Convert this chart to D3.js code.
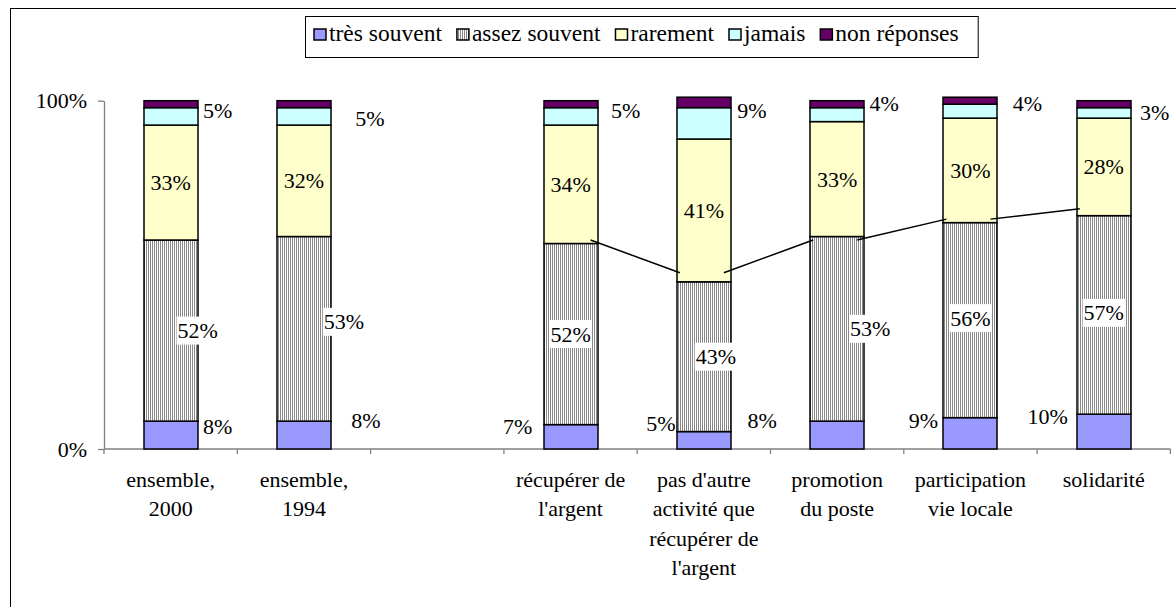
<!DOCTYPE html>
<html>
<head>
<meta charset="utf-8">
<script src="https://cdn.jsdelivr.net/npm/d3@7"></script>
<style>
  body { margin: 0; background: #fff; }
  svg { display: block; }
  svg text { font-family: "Liberation Serif", Tinos, "Times New Roman", Times, "Nimbus Roman", "DejaVu Serif", serif; }
</style>
</head>
<body>
<div id="chart"></div>
<script>
// data (third slot is an empty gap in the chart)
var categories = ["ensemble,\n2000", "ensemble,\n1994", "", "récupérer de\nl'argent",
  "pas d'autre\nactivité que\nrécupérer de\nl'argent", "promotion\ndu poste",
  "participation\nvie locale", "solidarité"];
var seriesNames = ["très souvent", "assez souvent", "rarement", "jamais", "non réponses"];
var tresSouvent  = [8, 8, null, 7, 5, 8, 9, 10];
var assezSouvent = [52, 53, null, 52, 43, 53, 56, 57];
var rarement     = [33, 32, null, 34, 41, 33, 30, 28];
var jamais       = [5, 5, null, 5, 9, 4, 4, 3];
var nonReponses  = [2, 2, null, 2, 3, 2, 2, 2];
// level of the hand drawn connecting lines
var lienNiveaux  = [null, null, null, 60, 50.6, 60, 66, 69];
var yTicks = [0, 100];

// label nudges [dx, dy] in px, as placed by hand in the original
var offTres   = [[47, -9], [62, -15], null, [-53, -10], [-43, -17], [-75, -15], [-47, -13], [-56, -15]];
var offAssez  = [[27, 0], [40, -7], null, [0, 0], [12, 0], [33, 0], [0, -2], [0, -2]];
var offJamais = [[47, -6], [66, 2], null, [55, -6], [48, -13], [47, -11], [57, -8], [51, 0]];

var colors = {"très souvent": "#9999ff", "assez souvent": "url(#hachures)", "rarement": "#ffffcc",
  "jamais": "#ccffff", "non réponses": "#660066"};

var W = 1176, H = 607;
var plot = {left: 104, right: 1170.4, top: 100.7, bottom: 449};
var fs = 22;

var svg = d3.select("#chart").append("svg")
    .attr("width", W)
    .attr("height", H);

// hatch pattern for "assez souvent"
var pat = svg.append("defs").append("pattern")
    .attr("id", "hachures")
    .attr("patternUnits", "userSpaceOnUse")
    .attr("width", 2).attr("height", 4);
pat.append("rect").attr("width", 2).attr("height", 4).attr("fill", "#fff");
pat.append("rect").attr("width", 1).attr("height", 4).attr("fill", "#888");

// outer frame
svg.append("rect")
    .attr("x", 10.5).attr("y", 8.5)
    .attr("width", 1300).attr("height", 700)
    .attr("fill", "none").attr("stroke", "#000").attr("stroke-width", 1);

var x = d3.scaleBand()
    .domain(d3.range(categories.length))
    .range([plot.left, plot.right])
    .padding(0);
var y = d3.scaleLinear()
    .domain([0, 100])
    .range([plot.bottom, plot.top]);
var bw = x.bandwidth() * 0.405;
function cx(i) { return x(i) + x.bandwidth() / 2; }

// rows for the stack
var rows = [];
categories.forEach(function(c, i) {
  if (tresSouvent[i] == null) return;
  rows.push({i: i, "très souvent": tresSouvent[i], "assez souvent": assezSouvent[i],
    "rarement": rarement[i], "jamais": jamais[i], "non réponses": nonReponses[i]});
});
var stacked = d3.stack().keys(seriesNames)(rows);

// y axis
var yAxis = svg.append("g")
    .attr("transform", "translate(" + plot.left + ",0)")
    .call(d3.axisLeft(y).tickValues(yTicks).tickSize(6).tickSizeOuter(0)
      .tickPadding(11).tickFormat(function(d) { return d + "%"; }));
yAxis.attr("font-family", null);
yAxis.selectAll("path, line").attr("stroke", "#808080").attr("stroke-width", 1.3);
yAxis.selectAll("text")
    .attr("font-size", fs).attr("fill", "#000").attr("dy", "0.32em");

// x axis: line, ticks at band boundaries, wrapped labels
var xAxis = svg.append("g");
xAxis.append("line")
    .attr("x1", plot.left).attr("x2", plot.right)
    .attr("y1", plot.bottom).attr("y2", plot.bottom)
    .attr("stroke", "#808080").attr("stroke-width", 1.3);
var bounds = x.domain().map(function(d) { return x(d); }).concat([plot.right]);
xAxis.selectAll(".tk").data(bounds).enter().append("line")
    .attr("x1", function(d) { return d; }).attr("x2", function(d) { return d; })
    .attr("y1", plot.bottom).attr("y2", plot.bottom + 5)
    .attr("stroke", "#808080").attr("stroke-width", 1.3);
xAxis.selectAll(".lab").data(categories).enter().append("text")
    .attr("text-anchor", "middle")
    .attr("font-size", fs)
    .attr("fill", "#000")
    .each(function(d, i) {
      var t = d3.select(this);
      d.split("\n").forEach(function(line, k) {
        t.append("tspan")
          .attr("x", cx(i))
          .attr("y", 487 + k * 29.3)
          .text(line);
      });
    });

// bars
var layers = svg.selectAll(".layer").data(stacked).enter().append("g")
    .attr("fill", function(d) { return colors[d.key]; });
layers.selectAll("rect").data(function(d) { return d; }).enter().append("rect")
    .attr("x", function(d) { return Math.round(cx(d.data.i) - bw / 2); })
    .attr("width", Math.round(bw))
    .attr("y", function(d) { return y(d[1]); })
    .attr("height", function(d) { return y(d[0]) - y(d[1]); })
    .attr("stroke", "#000")
    .attr("stroke-width", 1.5);

// connecting lines
var pts = [];
lienNiveaux.forEach(function(v, i) { if (v != null) pts.push({i: i, v: v}); });
for (var k = 0; k < pts.length - 1; k++) {
  svg.append("line")
    .attr("x1", cx(pts[k].i) + 20)
    .attr("y1", y(pts[k].v))
    .attr("x2", cx(pts[k + 1].i) - 24)
    .attr("y2", y(pts[k + 1].v))
    .attr("stroke", "#000")
    .attr("stroke-width", 1.5);
}

// data labels
var labels = svg.append("g").attr("font-size", fs).attr("fill", "#000");
stacked.forEach(function(layer) {
  if (layer.key == "non réponses") return;
  layer.forEach(function(d) {
    var i = d.data.i;
    var off = [0, 0];
    if (layer.key == "très souvent") off = offTres[i];
    if (layer.key == "assez souvent") off = offAssez[i];
    if (layer.key == "jamais") off = offJamais[i];
    var lx = cx(i) + off[0];
    var ly = (y(d[0]) + y(d[1])) / 2 + off[1];
    var g = labels.append("g");
    var t = g.append("text")
        .attr("x", lx)
        .attr("y", ly + 7.5)
        .attr("text-anchor", "middle")
        .text(d.data[layer.key] + "%");
    if (layer.key == "assez souvent") {
      var bb = t.node().getBBox();
      g.insert("rect", "text")
        .attr("x", bb.x - 1).attr("y", ly - 14)
        .attr("width", bb.width + 2).attr("height", 28)
        .attr("fill", "#fff");
    }
  });
});

// legend
var leg = svg.append("g");
var legBox = leg.append("rect")
    .attr("x", 305.5).attr("y", 16.5)
    .attr("height", 41)
    .attr("fill", "#fff").attr("stroke", "#000").attr("stroke-width", 1);
var lx = 314;
seriesNames.forEach(function(name) {
  leg.append("rect")
    .attr("x", lx).attr("y", 29)
    .attr("width", 12).attr("height", 11)
    .attr("fill", colors[name])
    .attr("stroke", "#000").attr("stroke-width", 1.5);
  var t = leg.append("text")
    .attr("x", lx + 15).attr("y", 41)
    .attr("font-size", 23.5)
    .attr("fill", "#000")
    .text(name);
  lx += 15 + t.node().getComputedTextLength() + 15;
});
legBox.attr("width", lx - 305 + 4);
</script>
</body>
</html>
